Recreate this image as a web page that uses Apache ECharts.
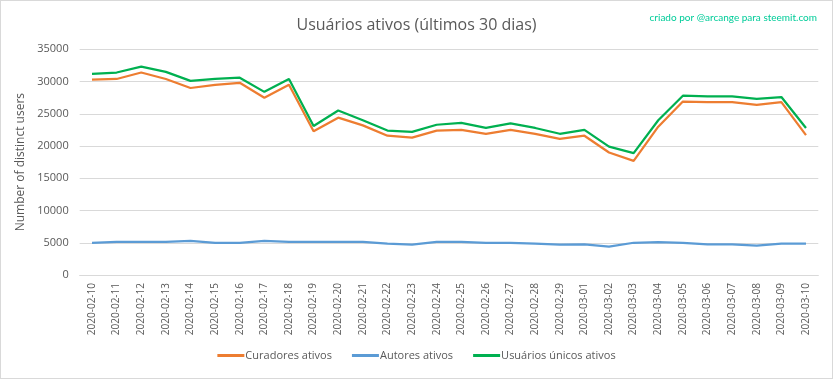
<!DOCTYPE html>
<html><head><meta charset="utf-8">
<script src="https://cdn.jsdelivr.net/npm/echarts@6/dist/echarts.min.js"></script>
<style>
html,body{margin:0;padding:0;background:#fff;}
#c{width:831px;height:377px;border:1px solid #d9d9d9;}
</style></head>
<body><div id="c"></div>
<script>
const categories = ["2020-02-10","2020-02-11","2020-02-12","2020-02-13","2020-02-14","2020-02-15","2020-02-16","2020-02-17","2020-02-18","2020-02-19","2020-02-20","2020-02-21","2020-02-22","2020-02-23","2020-02-24","2020-02-25","2020-02-26","2020-02-27","2020-02-28","2020-02-29","2020-03-01","2020-03-02","2020-03-03","2020-03-04","2020-03-05","2020-03-06","2020-03-07","2020-03-08","2020-03-09","2020-03-10"];
const curadores = [30300,30400,31400,30400,29000,29500,29800,27500,29500,22300,24400,23200,21600,21300,22400,22500,21900,22500,21900,21100,21600,19000,17700,23000,26900,26800,26800,26400,26800,21700];
const autores = [5000,5150,5150,5150,5300,5000,5000,5300,5150,5150,5150,5150,4850,4700,5150,5150,5000,5000,4850,4700,4750,4400,5000,5100,5000,4750,4750,4550,4850,4850];
const usuarios = [31200,31400,32300,31500,30100,30400,30600,28400,30400,23100,25500,24000,22400,22200,23300,23600,22800,23500,22800,21900,22500,19900,18900,24000,27800,27700,27700,27300,27600,22800];
const seriesNames = ["Curadores ativos","Autores ativos","Usuários únicos ativos"];
const titleText = "Usuários ativos (últimos 30 dias)";
const creditText = "criado por @arcange para steemit.com";
const yAxisName = "Number of distinct users";

const chart = echarts.init(document.getElementById('c'), null, {renderer:'canvas'});
const font = "Open Sans";
const lineSeries = (name, data, color) => ({
  name, type:'line', data, symbol:'none', smooth:false,
  lineStyle:{color, width:2.25}, itemStyle:{color}
});
chart.setOption({
  animation:false,
  textStyle:{fontFamily:font},
  title:[
    {text:titleText, left:'center', top:11, textStyle:{fontFamily:font, fontSize:16, fontWeight:'normal', color:'#595959'}},
    {text:creditText, right:10, top:7, textStyle:{fontFamily:'Lato', fontSize:10, fontWeight:'normal', color:'#00cc99'}}
  ],
  legend:{
    bottom:12, left:'center', itemWidth:27, itemHeight:3, itemGap:20,
    icon:'rect',
    textStyle:{fontFamily:font, fontSize:11, color:'#595959', padding:[0,0,0,-4]},
    data:seriesNames
  },
  grid:{left:78.7, right:13.7, top:48.3, bottom:103, containLabel:false},
  xAxis:{
    type:'category', data:categories, boundaryGap:true,
    axisLine:{lineStyle:{color:'#d9d9d9'}}, axisTick:{show:false},
    axisLabel:{rotate:90, interval:0, fontFamily:font, fontSize:10, color:'#595959', margin:8}
  },
  yAxis:{
    type:'value', min:0, max:35000, interval:5000,
    name:yAxisName, nameLocation:'middle', nameGap:37, nameRotate:90,
    nameTextStyle:{fontFamily:font, fontSize:12, color:'#595959'},
    axisLine:{show:false}, axisTick:{show:false},
    splitLine:{lineStyle:{color:'#d9d9d9'}},
    axisLabel:{fontFamily:font, fontSize:11, color:'#595959', margin:11, formatter:v => String(v)}
  },
  series:[
    lineSeries(seriesNames[0], curadores, '#ED7D31'),
    lineSeries(seriesNames[1], autores, '#5B9BD5'),
    lineSeries(seriesNames[2], usuarios, '#00B050')
  ]
});
</script></body></html>
